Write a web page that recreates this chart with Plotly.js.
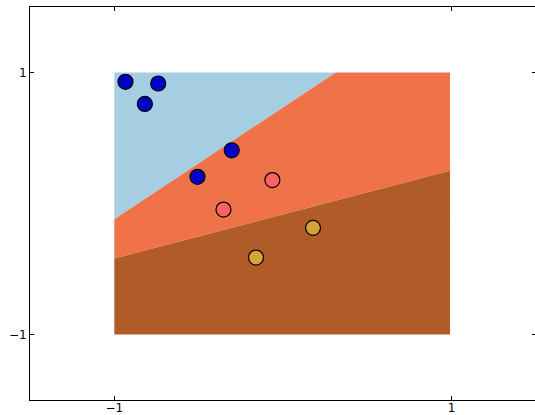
<!DOCTYPE html>
<html>
<head>
<meta charset="utf-8">
<script src="https://cdn.plot.ly/plotly-3.0.1.min.js"></script>
<style>html,body{margin:0;padding:0;background:#fff;overflow:hidden;width:535px;height:415px;}#chart{width:537px;height:415px;}</style>
</head>
<body>
<div id="chart"></div>
<script>
// Decision regions (vertices)
const regionBlueX = [-1, 0.313, -1];
const regionBlueY = [1, 1, -0.12];
const regionOrangeX = [-1, 0.313, 0.99, 0.99, -1];
const regionOrangeY = [-0.12, 1, 1, 0.25, -0.42];
const regionBrownX = [-1, 0.99, 0.99, -1];
const regionBrownY = [-0.42, 0.25, -1, -1];

// Sample points by class
const class0X = [-0.934, -0.740, -0.819, -0.304, -0.507];
const class0Y = [0.929, 0.916, 0.760, 0.406, 0.204];
const class1X = [-0.063, -0.353];
const class1Y = [0.179, -0.046];
const class2X = [0.178, -0.160];
const class2Y = [-0.186, -0.413];

const tickVals = [-1, 1];
const tickText = ['\u22121', '1'];

function region(x, y, color) {
  return {x: x, y: y, type: 'scatter', mode: 'lines', fill: 'toself',
          fillcolor: color, line: {width: 0, color: color}, hoverinfo: 'skip'};
}
function pts(x, y, color) {
  return {x: x, y: y, type: 'scatter', mode: 'markers',
          marker: {size: 15, color: color, line: {color: '#000', width: 1.2}}};
}

const data = [
  region(regionBlueX, regionBlueY, '#a6cee3'),
  region(regionOrangeX, regionOrangeY, '#f07248'),
  region(regionBrownX, regionBrownY, '#b15b29'),
  pts(class0X, class0Y, '#0000c8'),
  pts(class1X, class1Y, '#ff6262'),
  pts(class2X, class2Y, '#d4a43a')
];

const axis = {
  range: [-1.5, 1.5], showgrid: false, zeroline: false,
  showline: true, linecolor: '#000', linewidth: 1, mirror: 'ticks',
  ticks: 'inside', ticklen: 4, tickcolor: '#000', tickwidth: 1,
  tickvals: tickVals, ticktext: tickText,
  tickfont: {family: 'DejaVu Sans', size: 12, color: '#000'}
};

const layout = {
  width: 537, height: 415,
  margin: {l: 30, r: 1, t: 7, b: 15},
  paper_bgcolor: '#fff', plot_bgcolor: '#fff',
  showlegend: false,
  xaxis: Object.assign({}, axis, {ticklabelstandoff: -3}),
  yaxis: Object.assign({}, axis)
};

Plotly.newPlot('chart', data, layout, {displayModeBar: false, staticPlot: true});
</script>
</body>
</html>
